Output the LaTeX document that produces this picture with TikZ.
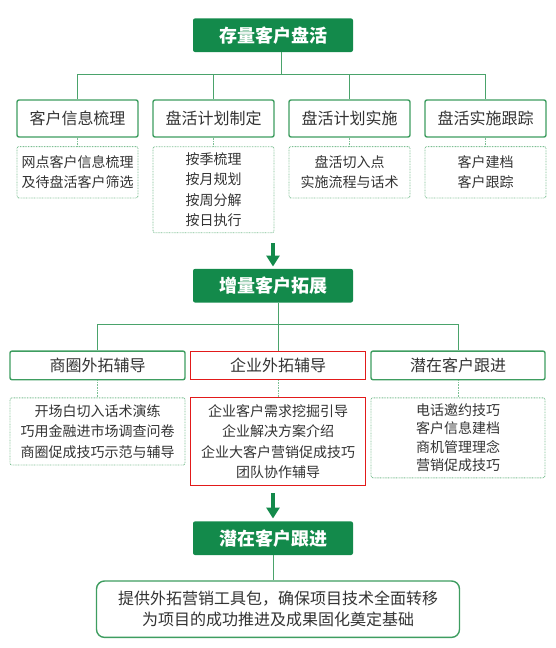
\documentclass[tikz,border=0pt]{standalone}
\usepackage{fontspec}
\newfontfamily\cjk{Noto Sans CJK SC}
\usetikzlibrary{arrows.meta}
\definecolor{gdark}{HTML}{138A4B}
\definecolor{gline}{HTML}{4AA36B}
\definecolor{gbox}{HTML}{3E9D60}
\definecolor{gdot}{HTML}{7CBF93}
\definecolor{txt}{HTML}{333333}
\definecolor{redbox}{HTML}{E21A1A}
\begin{document}
\begin{tikzpicture}[x=1pt,y=-1pt,
 title/.style={fill=gdark,rounded corners=2pt,minimum width=160pt,minimum height=33.6pt,text=white,font=\cjk\bfseries\fontsize{18}{20}\selectfont,inner sep=0pt},
 cat/.style={draw=gbox,line width=1.4pt,fill=white,rounded corners=2pt,text=txt,font=\cjk\fontsize{16}{18}\selectfont,inner sep=0pt},
 det/.style={draw=gdot,dash pattern=on 0.8pt off 0.8pt,line width=0.9pt,rounded corners=2pt,text=txt,font=\cjk\fontsize{14}{20.5}\selectfont,align=center,inner sep=0pt},
 conn/.style={draw=gline,line width=1pt},
 dconn/.style={draw=gdot,dash pattern=on 0.8pt off 0.8pt,line width=0.9pt},
 bigarrow/.style={draw=gdark,line width=4pt,-{Triangle[width=13pt,length=11pt]}}
]
\useasboundingbox (0,0) rectangle (555,648);

% ---------- section 1 ----------
\node[title] (t1) at (273,35.2) {存量客户盘活};
\node[cat,minimum width=121pt,minimum height=37pt] (c1) at (77.5,118.5) {客户信息梳理};
\node[cat,minimum width=121pt,minimum height=37pt] (c2) at (213.5,118.5) {盘活计划制定};
\node[cat,minimum width=121pt,minimum height=37pt] (c3) at (349.5,118.5) {盘活计划实施};
\node[cat,minimum width=121pt,minimum height=37pt] (c4) at (485.5,118.5) {盘活实施跟踪};

\node[det,minimum width=121pt,minimum height=51.4pt] (d1) at (77.5,172.3) {网点客户信息梳理\\及待盘活客户筛选};
\node[det,minimum width=121pt,minimum height=86pt] (d2) at (213.5,189.7) {按季梳理\\按月规划\\按周分解\\按日执行};
\node[det,minimum width=121pt,minimum height=51.4pt] (d3) at (349.5,172.3) {盘活切入点\\实施流程与话术};
\node[det,minimum width=121pt,minimum height=51.4pt] (d4) at (485.5,172.3) {客户建档\\客户跟踪};

\coordinate (j1) at (281,74.3);
\draw[conn] (t1.south -| j1) -- (j1);
\draw[conn] (c1.north) |- (j1) -| (c4.north);
\draw[conn] (c2.north) -- (c2.north |- j1);
\draw[conn] (c3.north) -- (c3.north |- j1);
\foreach \i in {1,2,3,4} \draw[dconn] (c\i.south) -- (d\i.north);

\coordinate (a1s) at (273,243);
\coordinate (a1e) at (273,266.5);
\draw[bigarrow] (a1s) -- (a1e);

% ---------- section 2 ----------
\node[title] (t2) at (273,285.7) {增量客户拓展};
\node[cat,minimum width=175pt,minimum height=28.7pt] (e1) at (97.5,365.4) {商圈外拓辅导};
\node[cat,draw=redbox,line width=1pt,rounded corners=0pt,minimum width=175pt,minimum height=28.7pt] (e2) at (278,365.4) {企业外拓辅导};
\node[cat,minimum width=174pt,minimum height=28.7pt] (e3) at (458,365.4) {潜在客户跟进};

\node[det,minimum width=175pt,minimum height=67.2pt] (f1) at (97.5,431.4) {开场白切入话术演练\\巧用金融进市场调查问卷\\商圈促成技巧示范与辅导};
\node[det,draw=redbox,solid,rounded corners=0pt,minimum width=175pt,minimum height=87.2pt] (f2) at (278,441.4) {企业客户需求挖掘引导\\企业解决方案介绍\\企业大客户营销促成技巧\\团队协作辅导};
\node[det,font=\cjk\fontsize{14}{18.5}\selectfont,minimum width=174pt,minimum height=80pt] (f3) at (458,437.8) {电话邀约技巧\\客户信息建档\\商机管理理念\\营销促成技巧};

\coordinate (j2) at (278,324.4);
\draw[conn] (t2.south -| j2) -- (j2);
\draw[conn] (e1.north) |- (j2) -| (e3.north);
\draw[conn] (e2.north) -- (j2);
\foreach \i in {1,2,3} \draw[dconn] (e\i.south) -- (f\i.north);

\coordinate (a2s) at (273,493);
\coordinate (a2e) at (273,518.5);
\draw[bigarrow] (a2s) -- (a2e);

% ---------- section 3 ----------
\node[title] (t3) at (273,538.2) {潜在客户跟进};
\node[cat,rounded corners=8pt,align=center,font=\cjk\fontsize{16}{21}\selectfont,minimum width=363pt,minimum height=56.4pt] (g1) at (278,609.2) {提供外拓营销工具包，确保项目技术全面转移\\为项目的成功推进及成果固化奠定基础};
\draw[conn] (t3.south) -- (t3.south |- g1.north);
\end{tikzpicture}
\end{document}
